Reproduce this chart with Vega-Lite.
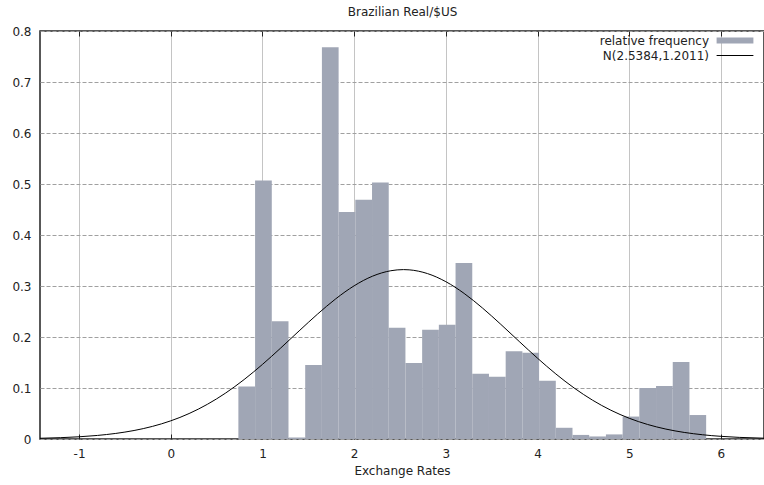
{
  "$schema": "https://vega.github.io/schema/vega-lite/v6.json",
  "width": 724,
  "height": 408,
  "autosize": {"type": "none"},
  "padding": {"left": 40, "top": 31, "right": 0, "bottom": 46},
  "background": "white",
  "config": {
    "view": {"stroke": "#222", "strokeWidth": 1.5}
  },
  "datasets": {
    "bars": [
      {"lo": 0.7375, "hi": 0.9197, "freq": 0.103},
      {"lo": 0.9197, "hi": 1.1019, "freq": 0.507},
      {"lo": 1.1019, "hi": 1.2841, "freq": 0.231},
      {"lo": 1.2841, "hi": 1.4663, "freq": 0.003},
      {"lo": 1.4663, "hi": 1.6485, "freq": 0.145},
      {"lo": 1.6485, "hi": 1.8307, "freq": 0.768},
      {"lo": 1.8307, "hi": 2.0129, "freq": 0.445},
      {"lo": 2.0129, "hi": 2.1951, "freq": 0.469},
      {"lo": 2.1951, "hi": 2.3773, "freq": 0.503},
      {"lo": 2.3773, "hi": 2.5595, "freq": 0.218},
      {"lo": 2.5595, "hi": 2.7417, "freq": 0.149},
      {"lo": 2.7417, "hi": 2.9239, "freq": 0.214},
      {"lo": 2.9239, "hi": 3.1061, "freq": 0.224},
      {"lo": 3.1061, "hi": 3.2883, "freq": 0.345},
      {"lo": 3.2883, "hi": 3.4705, "freq": 0.128},
      {"lo": 3.4705, "hi": 3.6527, "freq": 0.122},
      {"lo": 3.6527, "hi": 3.8349, "freq": 0.172},
      {"lo": 3.8349, "hi": 4.0171, "freq": 0.169},
      {"lo": 4.0171, "hi": 4.1993, "freq": 0.114},
      {"lo": 4.1993, "hi": 4.3815, "freq": 0.022},
      {"lo": 4.3815, "hi": 4.5637, "freq": 0.008},
      {"lo": 4.5637, "hi": 4.7459, "freq": 0.005},
      {"lo": 4.7459, "hi": 4.9281, "freq": 0.009},
      {"lo": 4.9281, "hi": 5.1103, "freq": 0.044},
      {"lo": 5.1103, "hi": 5.2925, "freq": 0.100},
      {"lo": 5.2925, "hi": 5.4747, "freq": 0.104},
      {"lo": 5.4747, "hi": 5.6569, "freq": 0.151},
      {"lo": 5.6569, "hi": 5.8391, "freq": 0.047}
    ],
    "curve": [
      {"x": -1.426, "density": 0.001431},
      {"x": -1.2, "density": 0.002616},
      {"x": -1.0, "density": 0.004333},
      {"x": -0.8, "density": 0.006979},
      {"x": -0.6, "density": 0.010934},
      {"x": -0.4, "density": 0.016661},
      {"x": -0.2, "density": 0.024694},
      {"x": 0.0, "density": 0.035601},
      {"x": 0.2, "density": 0.049917},
      {"x": 0.4, "density": 0.068078},
      {"x": 0.6, "density": 0.090311},
      {"x": 0.8, "density": 0.116531},
      {"x": 1.0, "density": 0.14624},
      {"x": 1.2, "density": 0.178531},
      {"x": 1.4, "density": 0.211951},
      {"x": 1.6, "density": 0.244779},
      {"x": 1.8, "density": 0.274946},
      {"x": 2.0, "density": 0.300392},
      {"x": 2.2, "density": 0.319216},
      {"x": 2.4, "density": 0.329942},
      {"x": 2.5384, "density": 0.33214},
      {"x": 2.6, "density": 0.331704},
      {"x": 2.8, "density": 0.324355},
      {"x": 3.0, "density": 0.308496},
      {"x": 3.2, "density": 0.285388},
      {"x": 3.4, "density": 0.256792},
      {"x": 3.6, "density": 0.224742},
      {"x": 3.8, "density": 0.191314},
      {"x": 4.0, "density": 0.158405},
      {"x": 4.2, "density": 0.12757},
      {"x": 4.4, "density": 0.099927},
      {"x": 4.6, "density": 0.076134},
      {"x": 4.8, "density": 0.05642},
      {"x": 5.0, "density": 0.040667},
      {"x": 5.2, "density": 0.028511},
      {"x": 5.4, "density": 0.019442},
      {"x": 5.6, "density": 0.012895},
      {"x": 5.8, "density": 0.008319},
      {"x": 6.0, "density": 0.00522},
      {"x": 6.2, "density": 0.003186},
      {"x": 6.47, "density": 0.001566}
    ]
  },
  "layer": [
    {
      "data": {"name": "bars"},
      "mark": {"type": "rect"},
      "encoding": {
        "x": {
          "field": "lo", "type": "quantitative",
          "scale": {"domain": [-1.426, 6.47], "nice": false, "zero": false},
          "axis": {
            "orient": "bottom", "values": [-1, 0, 1, 2, 3, 4, 5, 6],
            "title": "Exchange Rates", "titleFont": "DejaVu Sans", "titleFontSize": 12, "titleFontWeight": "normal", "titleColor": "#222", "titlePadding": 6,
            "labelFont": "DejaVu Sans", "labelFontSize": 12, "labelColor": "#222", "labelPadding": 14,
            "labelExpr": "datum.value < 0 ? '-' + format(-datum.value, 'd') : format(datum.value, 'd')",
            "grid": true, "gridColor": "#c4c4c4", "gridWidth": 1,
            "domain": false, "ticks": true, "tickSize": -5, "tickColor": "#222", "tickWidth": 1
          }
        },
        "x2": {"field": "hi"},
        "y": {
          "field": "freq", "type": "quantitative",
          "scale": {"domain": [0, 0.8], "nice": false},
          "axis": {
            "values": [0, 0.1, 0.2, 0.3, 0.4, 0.5, 0.6, 0.7, 0.8], "format": ".1~f", "title": null,
            "labelFont": "DejaVu Sans", "labelFontSize": 12, "labelColor": "#222", "labelPadding": 9,
            "grid": true, "gridDash": [4, 2], "gridColor": "#a0a0a0", "gridWidth": 1,
            "domain": false, "ticks": false
          }
        },
        "y2": {"datum": 0},
        "fill": {
          "datum": "relative frequency", "type": "nominal",
          "scale": {"range": ["#a0a6b5"]},
          "legend": {
            "orient": "none", "legendX": 689, "legendY": 3.5, "title": null, "padding": 0,
            "symbolType": "M-4.6,-0.75H4.6V0.75H-4.6Z", "symbolSize": 64, "symbolStrokeWidth": 0, "symbolOpacity": 1,
            "labelAlign": "right", "labelOffset": -32,
            "labelFont": "DejaVu Sans", "labelFontSize": 12, "labelColor": "#222"
          }
        }
      }
    },
    {
      "data": {"name": "curve"},
      "mark": {"type": "line", "interpolate": "monotone", "strokeWidth": 1, "clip": true},
      "encoding": {
        "x": {
          "field": "x", "type": "quantitative",
          "axis": {
            "orient": "top", "values": [-1, 0, 1, 2, 3, 4, 5, 6], "labels": false,
            "title": "Brazilian Real/$US", "titleFont": "DejaVu Sans", "titleFontSize": 12, "titleFontWeight": "normal", "titleColor": "#222", "titlePadding": 12,
            "grid": false, "domain": false, "ticks": true, "tickSize": -5, "tickColor": "#222", "tickWidth": 1, "zindex": 1
          }
        },
        "y": {
          "field": "density", "type": "quantitative",
          "axis": {
            "values": [0, 0.1, 0.2, 0.3, 0.4, 0.5, 0.6, 0.7, 0.8], "format": ".1~f", "title": null,
            "labelFont": "DejaVu Sans", "labelFontSize": 12, "labelColor": "#222", "labelPadding": 9,
            "grid": true, "gridDash": [4, 2], "gridColor": "#a0a0a0", "gridWidth": 1,
            "domain": false, "ticks": false
          }
        },
        "stroke": {
          "datum": "N(2.5384,1.2011)", "type": "nominal",
          "scale": {"range": ["#000000"]},
          "legend": {
            "orient": "none", "legendX": 689, "legendY": 18.5, "title": null, "padding": 0,
            "symbolType": "M-4.6,0H4.6", "symbolSize": 64, "symbolStrokeWidth": 1,
            "labelAlign": "right", "labelOffset": -32,
            "labelFont": "DejaVu Sans", "labelFontSize": 12, "labelColor": "#222"
          }
        }
      }
    }
  ],
  "resolve": {"axis": {"x": "independent"}}
}
